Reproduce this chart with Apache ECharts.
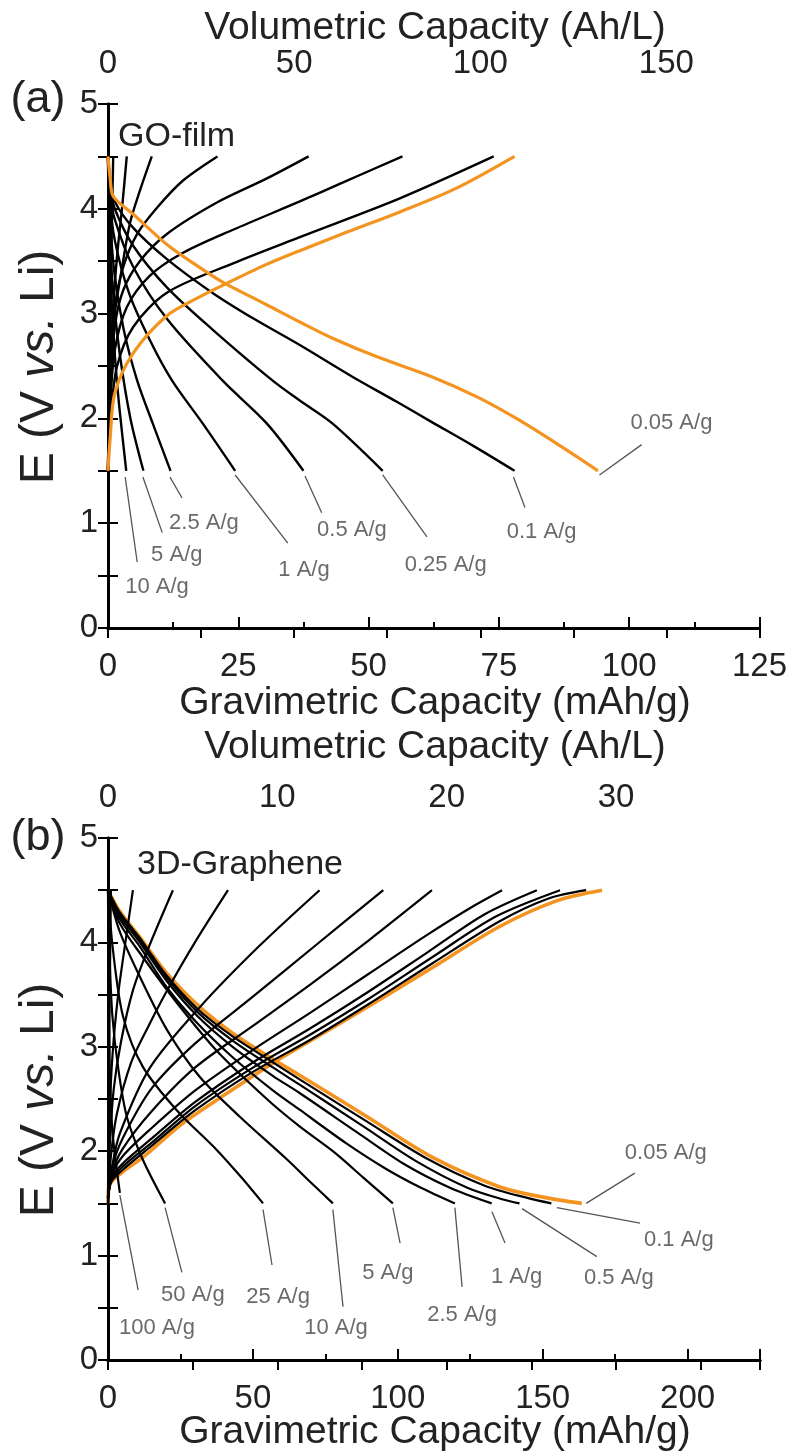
<!DOCTYPE html>
<html><head><meta charset="utf-8">
<script src="https://cdn.jsdelivr.net/npm/echarts@6/dist/echarts.min.js"></script>
<style>html,body{margin:0;padding:0;background:#fff}#c{width:790px;height:1451px}</style>
</head><body><div id="c"></div>
<script>
// ---------- Panel (a) GO-film : [gravimetric capacity mAh/g, potential V] ----------
const ratesA = ['0.05 A/g','0.1 A/g','0.25 A/g','0.5 A/g','1 A/g','2.5 A/g','5 A/g','10 A/g'];
const chargeA_005 = [[0,1.5],[0.4,1.8],[1.3,2.24],[4.8,2.62],[11.3,2.98],[17.6,3.16],[22,3.27],[30,3.46],[36.8,3.6],[46,3.78],[56,3.97],[67,4.2],[78,4.5]];
const chargeA_01  = [[0,1.5],[0.5,2.0],[1.7,2.49],[4.8,2.87],[11.3,3.2],[24,3.48],[36.8,3.73],[56,4.1],[74,4.5]];
const chargeA_025 = [[0,1.5],[0.4,2.1],[1.3,2.65],[3.6,3.06],[8,3.36],[14.4,3.58],[24,3.8],[36.8,4.07],[45,4.25],[56.5,4.5]];
const chargeA_05  = [[0,1.5],[0.4,2.2],[1.3,2.87],[2.9,3.22],[6.1,3.5],[11.3,3.76],[20.9,4.06],[30.5,4.29],[38.5,4.5]];
const chargeA_1   = [[0,1.5],[0.4,2.4],[1.3,3.06],[2.9,3.44],[5.6,3.76],[9.4,4.01],[14.4,4.27],[21,4.5]];
const chargeA_25  = [[0,1.5],[0.4,2.5],[1.3,3.0],[2.7,3.44],[4.2,3.86],[6.1,4.17],[8.4,4.5]];
const chargeA_5   = [[0,1.5],[0.3,2.4],[1,3.06],[1.7,3.53],[2.7,4.01],[3.6,4.5]];
const chargeA_10  = [[0,1.5],[0.3,2.6],[0.6,3.5],[1,4.5]];
const dischA_005 = [[0,4.5],[0.4,4.3],[1,4.12],[4.8,3.95],[11.3,3.66],[17.6,3.44],[22,3.3],[30.6,3.08],[36.8,2.92],[43.3,2.76],[52,2.58],[62,2.4],[71,2.2],[79,1.98],[87,1.73],[94,1.5]];
const dischA_01  = [[0,4.5],[0.5,4.25],[1.3,4.07],[4.8,3.82],[11.3,3.52],[20,3.2],[28,2.95],[36.8,2.7],[46.8,2.4],[55,2.17],[62.3,1.96],[70,1.74],[78,1.5]];
const dischA_025 = [[0,4.5],[0.5,4.2],[1.3,4.0],[4.8,3.65],[11.3,3.25],[20,2.85],[31.6,2.36],[36.8,2.17],[43.1,1.95],[52.7,1.5]];
const dischA_05  = [[0,4.5],[0.4,4.15],[1.3,3.9],[4.8,3.45],[11.3,2.95],[22,2.36],[30.5,1.95],[37.5,1.5]];
const dischA_1   = [[0,4.5],[0.3,4.1],[1.3,3.7],[4,3.2],[8,2.75],[12.3,2.36],[18.2,1.95],[24.4,1.5]];
const dischA_25  = [[0,4.5],[0.3,4.0],[1.2,3.4],[3,2.85],[5.6,2.36],[8.6,1.95],[12,1.5]];
const dischA_5   = [[0,4.5],[0.3,3.8],[1,3.2],[2.3,2.6],[4.3,2.0],[6.8,1.5]];
const dischA_10  = [[0,4.5],[0.2,3.8],[0.8,3.0],[1.8,2.3],[3.5,1.5]];
// annotation: [label, leader start, leader end, label centre]
const annA = [
  ['0.05 A/g',[94.3,1.46],[102.4,1.75],[108.1,1.96]],
  ['0.1 A/g',[77.8,1.44],[80,1.15],[83.2,0.92]],
  ['0.25 A/g',[52.7,1.46],[61.2,0.87],[64.8,0.6]],
  ['0.5 A/g',[37.8,1.45],[41,1.1],[46.8,0.94]],
  ['1 A/g',[24.4,1.46],[34.5,0.81],[37.6,0.55]],
  ['2.5 A/g',[11.9,1.44],[14.2,1.24],[18.4,1.0]],
  ['5 A/g',[6.7,1.44],[10.4,0.91],[13.2,0.7]],
  ['10 A/g',[3.3,1.44],[5.6,0.63],[9.4,0.39]]
];

// ---------- Panel (b) 3D-Graphene ----------
const ratesB = ['0.05 A/g','0.1 A/g','0.5 A/g','1 A/g','2.5 A/g','5 A/g','10 A/g','25 A/g','50 A/g','100 A/g'];
const chargeB_005 = [[0,1.5],[0.6,1.68],[5,1.8],[12,1.94],[25.9,2.27],[43,2.59],[58.3,2.87],[70,3.06],[89.4,3.38],[112,3.76],[135,4.15],[155,4.4],[170.5,4.5]];
const chargeB_01  = [[0,1.5],[1,1.7],[5,1.82],[15,2.05],[30,2.39],[50,2.76],[70,3.07],[90,3.41],[112,3.8],[135,4.2],[152,4.42],[165,4.5]];
const chargeB_05  = [[0,1.5],[1,1.72],[5,1.85],[15,2.08],[30,2.43],[50,2.8],[70,3.12],[90,3.46],[112,3.86],[134,4.25],[156,4.5]];
const chargeB_1   = [[0,1.5],[1,1.74],[5,1.88],[15,2.12],[30,2.47],[50,2.85],[70,3.18],[90,3.53],[110,3.9],[130,4.27],[148,4.5]];
const chargeB_25  = [[0,1.55],[1.5,1.78],[5,1.95],[15,2.22],[30,2.58],[50,2.97],[70,3.33],[90,3.7],[110,4.07],[125,4.33],[136,4.5]];
const chargeB_5   = [[0,1.55],[1.5,1.8],[5,2.02],[15,2.38],[30,2.8],[50,3.2],[70,3.6],[90,4.02],[111.8,4.5]];
const chargeB_10  = [[0,1.55],[1.5,1.85],[5,2.12],[15,2.6],[30,3.03],[50,3.48],[72,3.98],[95,4.5]];
const chargeB_25c = [[0,1.55],[1.4,1.85],[4.1,2.17],[14.5,2.8],[31.7,3.38],[52,3.96],[73,4.5]];
const chargeB_50  = [[0,1.55],[1,1.95],[3,2.35],[8,2.85],[14,3.2],[20.4,3.54],[30,4.0],[41.4,4.5]];
const chargeB_100 = [[0,1.55],[0.7,2.1],[2,2.6],[4.5,3.05],[8.6,3.54],[14,3.95],[22.4,4.5]];
const chargeB_x1  = [[0,1.55],[0.5,2.3],[1.5,2.9],[3.5,3.5],[6,4.0],[8.6,4.5]];
const chargeB_x2  = [[0,1.6],[0.3,2.6],[0.6,3.5],[1,4.5]];
const dischB_005 = [[0,4.5],[4,4.3],[11,4.05],[20.4,3.7],[31.7,3.38],[43,3.13],[57,2.88],[66,2.73],[89.4,2.33],[112,1.94],[135,1.66],[150,1.56],[163.5,1.5]];
const dischB_01  = [[0,4.5],[4,4.29],[11,4.04],[20,3.69],[31,3.36],[43,3.1],[57,2.85],[66,2.69],[89,2.29],[110,1.93],[130,1.67],[145,1.55],[153,1.5]];
const dischB_05  = [[0,4.5],[4,4.28],[11,4.03],[20,3.67],[31,3.33],[43,3.06],[57,2.8],[66,2.64],[88,2.24],[106,1.91],[124,1.65],[136,1.54],[142,1.5]];
const dischB_1   = [[0,4.5],[4,4.26],[11,4.0],[20,3.64],[31,3.29],[43,3.0],[57,2.72],[66,2.56],[86,2.18],[102,1.88],[118,1.65],[132.4,1.5]];
const dischB_25  = [[0,4.5],[4,4.23],[11,3.96],[20,3.58],[31,3.22],[43,2.9],[57,2.58],[66,2.4],[82,2.08],[96,1.83],[108,1.65],[119.7,1.5]];
const dischB_5   = [[0,4.5],[4.1,4.18],[12,3.86],[23.8,3.42],[37.6,2.96],[54.8,2.5],[66,2.24],[77.6,2.0],[88,1.75],[98.3,1.5]];
const dischB_10  = [[0,4.5],[4.1,4.1],[11,3.67],[20.4,3.16],[31.7,2.71],[45.5,2.33],[61.8,1.92],[70,1.7],[77.6,1.5]];
const dischB_25c = [[0,4.5],[1.7,3.93],[5.2,3.29],[12,2.81],[23.8,2.39],[37.6,2.01],[46,1.75],[53.5,1.5]];
const dischB_50  = [[0,4.5],[0.5,3.9],[1.5,3.3],[3.5,2.8],[6.5,2.33],[12,1.92],[19.7,1.5]];
const dischB_100 = [[0,4.5],[0.2,3.6],[0.6,2.8],[1.5,2.2],[4.1,1.6]];
const annB = [
  ['0.05 A/g',[165,1.5],[181.8,1.79],[192.5,1.98]],
  ['0.1 A/g',[154.9,1.46],[183.6,1.31],[197,1.15]],
  ['0.5 A/g',[142.9,1.45],[168.7,0.99],[176.3,0.79]],
  ['1 A/g',[132.5,1.42],[137,1.12],[141,0.8]],
  ['2.5 A/g',[119.7,1.46],[122.2,0.7],[122.2,0.43]],
  ['5 A/g',[98.3,1.46],[100.8,1.12],[96.6,0.83]],
  ['10 A/g',[77.6,1.44],[81.1,0.51],[78.7,0.31]],
  ['25 A/g',[53.5,1.44],[56.6,0.91],[58.7,0.6]],
  ['50 A/g',[19.7,1.46],[25.5,0.84],[29.3,0.62]],
  ['100 A/g',[4.1,1.58],[10.4,0.67],[16.9,0.31]]
];

// ---------- axis tick labels ----------
const gravTicksA = [0,25,50,75,100,125];
const volTicksA = [0,50,100,150];
const gravTicksB = [0,50,100,150,200];
const volTicksB = [0,10,20,30];
const voltTicks = [0,1,2,3,4,5];

const FONT = '"Liberation Sans", Arial, Helvetica, sans-serif';
const BLACK = '#000', ORANGE = '#f39421', TXT = '#222', LEAD = '#555';

const chargeA = [chargeA_01,chargeA_025,chargeA_05,chargeA_1,chargeA_25,chargeA_5,chargeA_10];
const dischA = [dischA_01,dischA_025,dischA_05,dischA_1,dischA_25,dischA_5,dischA_10];
const chargeB = [chargeB_01,chargeB_05,chargeB_1,chargeB_25,chargeB_5,chargeB_10,chargeB_25c,chargeB_50,chargeB_100,chargeB_x1,chargeB_x2];
const dischB = [dischB_01,dischB_05,dischB_1,dischB_25,dischB_5,dischB_10,dischB_25c,dischB_50,dischB_100];

function curve(data, panel, color, w, z) {
  return {type:'line', xAxisIndex: panel===0?0:2, yAxisIndex: panel===0?0:2, data:data,
    showSymbol:false, smooth:0.3, silent:true, z:z||2,
    lineStyle:{color:color, width:w}, emphasis:{disabled:true}};
}
const series = [];
chargeA.forEach(d=>series.push(curve(d,0,BLACK,2.4)));
dischA.forEach(d=>series.push(curve(d,0,BLACK,2.4)));
series.push(curve(chargeA_005,0,ORANGE,3.2,3));
series.push(curve(dischA_005,0,ORANGE,3.2,3));
series.push(curve(chargeB_005,1,ORANGE,3.6,1));
series.push(curve(dischB_005,1,ORANGE,3.6,1));
chargeB.forEach(d=>series.push(curve(d,1,BLACK,2.2)));
dischB.forEach(d=>series.push(curve(d,1,BLACK,2.2)));

function annot(list, panel) {
  const xi = panel===0?0:2, yi = panel===0?0:2;
  list.forEach(a=>{
    series.push({type:'line', xAxisIndex:xi, yAxisIndex:yi, data:[a[1],a[2]], showSymbol:false, silent:true,
      lineStyle:{color:LEAD, width:1.3}, z:4});
  });
  series.push({type:'scatter', xAxisIndex:xi, yAxisIndex:yi, symbolSize:1, silent:true, z:5,
    itemStyle:{color:'rgba(0,0,0,0)'},
    data:list.map(a=>({name:a[0], value:a[3]})),
    label:{show:true, position:'inside', formatter:p=>p.name, fontFamily:FONT, fontSize:22, color:'#454545'}});
}
annot(annA,0); annot(annB,1);

const axLine = {show:true, lineStyle:{color:BLACK, width:3}};
function lbl(ticks, extra) {
  return Object.assign({show:true, fontFamily:FONT, fontSize:33, color:TXT,
    formatter:v=>ticks.indexOf(Math.round(v*1000)/1000)>=0 ? String(Math.round(v*1000)/1000) : '',
    showMinLabel:true, showMaxLabel:true, hideOverlap:false}, extra||{});
}
function txt(x, y, s, size, align) {
  return {type:'text', x:x, y:y, style:{text:s, font:size+'px '+FONT, fill:TXT,
    align:align||'center', verticalAlign:'middle', textAlign:align||'center', textVerticalAlign:'middle'}};
}
function ytitle(y) {
  return {type:'text', x:40, y:y, rotation:Math.PI/2, style:{text:'{n|E (V }{i|vs.}{n| Li)}', fill:TXT,
    align:'center', verticalAlign:'middle', textAlign:'center', textVerticalAlign:'middle',
    rich:{n:{fontFamily:FONT, fontSize:48, fill:TXT, color:TXT}, i:{fontFamily:FONT, fontSize:48, fontStyle:'italic', fill:TXT, color:TXT}}}};
}

const option = {
  animation:false,
  backgroundColor:'#fff',
  grid:[
    {left:108, top:104, width:652, height:524, show:false},
    {left:108, top:838, width:652, height:522, show:false},
    {left:108, top:838, width:652, height:522, show:false}
  ],
  xAxis:[
    {gridIndex:0, type:'value', position:'bottom', min:0, max:125, interval:25,
      axisLine:axLine, axisTick:{show:true, inside:true, length:11, lineStyle:{width:2,color:BLACK}},
      minorTick:{show:true, splitNumber:2, length:6, lineStyle:{width:2,color:BLACK}},
      axisLabel:lbl(gravTicksA,{margin:22}), splitLine:{show:false}, minorSplitLine:{show:false}},
    {gridIndex:0, type:'value', position:'top', min:0, max:175, interval:25,
      axisLine:axLine, axisTick:{show:true, inside:true, length:10, lineStyle:{width:2,color:BLACK}},
      axisLabel:lbl(volTicksA,{margin:24}), splitLine:{show:false}},
    {gridIndex:1, type:'value', position:'bottom', min:0, max:225, interval:50,
      axisLine:axLine, axisTick:{show:true, inside:true, length:11, lineStyle:{width:2,color:BLACK}},
      axisLabel:lbl(gravTicksB,{margin:22}), splitLine:{show:false}},
    {gridIndex:1, type:'value', position:'top', min:0, max:38.5, interval:5,
      axisLine:axLine, axisTick:{show:true, inside:true, length:10, lineStyle:{width:2,color:BLACK}},
      axisLabel:lbl(volTicksB,{margin:24}), splitLine:{show:false}},
    {gridIndex:2, type:'value', position:'bottom', min:0, max:225, interval:25,
      axisLine:{show:false}, axisTick:{show:true, inside:true, length:6, lineStyle:{width:2,color:BLACK}},
      axisLabel:{show:false}, splitLine:{show:false}}
  ],
  yAxis:[
    {gridIndex:0, type:'value', position:'left', min:0, max:5, interval:0.5,
      axisLine:axLine, axisTick:{show:true, inside:true, length:10, lineStyle:{width:2,color:BLACK}},
      axisLabel:lbl(voltTicks,{margin:10}), splitLine:{show:false}},
    {gridIndex:0, type:'value', position:'right', min:0, max:5, interval:0.5,
      axisLine:axLine, axisTick:{show:true, inside:true, length:10, lineStyle:{width:2,color:BLACK}},
      axisLabel:{show:false}, splitLine:{show:false}},
    {gridIndex:1, type:'value', position:'left', min:0, max:5, interval:0.5,
      axisLine:axLine, axisTick:{show:true, inside:true, length:10, lineStyle:{width:2,color:BLACK}},
      axisLabel:lbl(voltTicks,{margin:10}), splitLine:{show:false}},
    {gridIndex:1, type:'value', position:'right', min:0, max:5, interval:0.5,
      axisLine:axLine, axisTick:{show:true, inside:true, length:10, lineStyle:{width:2,color:BLACK}},
      axisLabel:{show:false}, splitLine:{show:false}},
    {gridIndex:2, type:'value', show:false, min:0, max:5}
  ],
  graphic:[
    txt(435,28,'Volumetric Capacity (Ah/L)',39),
    txt(435,703,'Gravimetric Capacity (mAh/g)',39),
    txt(435,747,'Volumetric Capacity (Ah/L)',39),
    txt(435,1432,'Gravimetric Capacity (mAh/g)',39),
    txt(38,100,'(a)',45),
    txt(38,838,'(b)',45),
    txt(118,137,'GO-film',34,'left'),
    txt(137,865,'3D-Graphene',34,'left'),
    ytitle(367),
    ytitle(1100)
  ],
  series: series
};
const chart = echarts.init(document.getElementById('c'), null, {renderer:'canvas', width:790, height:1451});
chart.setOption(option);
</script></body></html>
